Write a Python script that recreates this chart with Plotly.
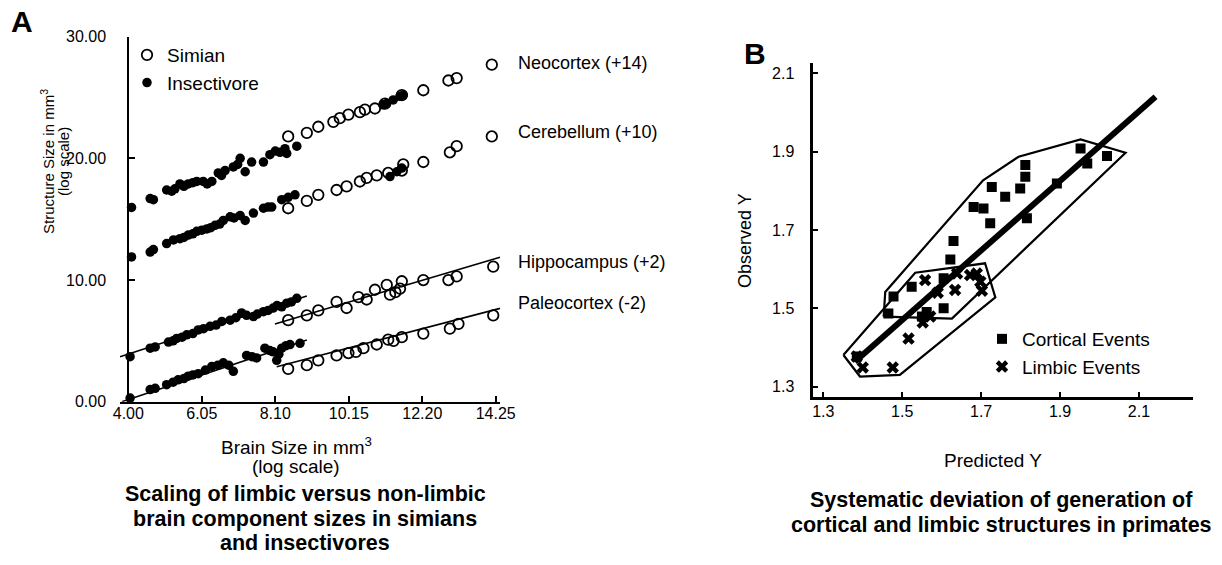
import plotly.graph_objects as go

W, H = 1222, 565

# ---------------- Panel A data (x = brain size, y = structure size, log scale, offsets applied) -------------
neo_ins_x = [4.09, 4.61, 4.70, 5.07, 5.21, 5.30, 5.44, 5.55, 5.67, 5.80, 5.91, 6.09, 6.20, 6.33, 6.51, 6.60, 6.70,
             6.93, 7.05, 7.12, 7.26, 7.44, 7.77, 7.95, 8.10, 8.23, 8.37, 8.42, 8.70, 11.10, 11.21, 11.39, 11.58, 11.67]
neo_ins_y = [15.97, 16.7, 16.6, 17.4, 17.3, 17.5, 17.9, 17.7, 17.9, 18.0, 18.1, 18.1, 17.9, 18.1, 18.8, 18.6, 19.0,
             19.3, 19.5, 20.0, 18.9, 19.7, 19.7, 20.3, 20.6, 20.5, 20.8, 20.4, 21.0, 24.4, 24.5, 24.8, 25.1, 25.2]
neo_sim_x = [8.46, 8.98, 9.30, 9.72, 9.90, 10.14, 10.46, 10.60, 10.88, 11.16, 11.63, 12.23, 12.93, 13.16, 14.14]
neo_sim_y = [21.8, 22.1, 22.6, 23.0, 23.3, 23.6, 23.8, 24.0, 24.1, 24.5, 25.2, 25.6, 26.4, 26.6, 27.7]

cer_ins_x = [4.09, 4.61, 4.70, 5.07, 5.26, 5.44, 5.55, 5.67, 5.80, 5.91, 6.05, 6.19, 6.30, 6.42, 6.55, 6.65, 6.84,
             6.95, 7.12, 7.26, 7.49, 7.77, 7.90, 8.00, 8.28, 8.46, 8.65, 11.30, 11.49, 11.63]
cer_ins_y = [11.9, 12.3, 12.5, 13.0, 13.3, 13.4, 13.5, 13.7, 13.8, 14.0, 14.1, 14.2, 14.3, 14.5, 14.6, 14.9, 15.2,
             15.1, 15.3, 14.9, 15.5, 15.9, 16.0, 16.0, 16.6, 16.8, 17.0, 18.5, 18.9, 19.2]
cer_sim_x = [8.46, 8.98, 9.30, 9.81, 10.09, 10.46, 10.65, 10.93, 11.25, 11.63, 11.67, 12.23, 12.97, 13.16, 14.14]
cer_sim_y = [15.9, 16.5, 17.0, 17.4, 17.7, 18.1, 18.4, 18.6, 18.8, 19.0, 19.5, 19.7, 20.5, 21.0, 21.8]

hip_ins_x = [4.05, 4.61, 4.75, 5.12, 5.25, 5.35, 5.50, 5.63, 5.80, 5.95, 6.10, 6.28, 6.45, 6.61, 6.84, 7.00, 7.16,
             7.30, 7.49, 7.60, 7.77, 7.90, 8.04, 8.15, 8.28, 8.42, 8.55, 8.70]
hip_ins_y = [3.7, 4.4, 4.5, 4.9, 5.0, 5.2, 5.3, 5.5, 5.6, 5.9, 6.0, 6.2, 6.3, 6.6, 6.7, 6.9, 7.3,
             7.1, 7.0, 7.2, 7.4, 7.5, 7.7, 7.9, 7.8, 8.1, 8.2, 8.5]
hip_sim_x = [8.46, 8.98, 9.30, 9.81, 10.09, 10.42, 10.65, 10.88, 11.21, 11.30, 11.45, 11.58, 11.63, 12.23, 12.93,
             13.16, 14.18]
hip_sim_y = [6.7, 7.1, 7.5, 8.2, 7.7, 8.6, 8.4, 9.2, 9.6, 8.8, 9.0, 9.3, 9.9, 10.0, 10.0, 10.3, 11.1]

pal_ins_x = [4.05, 4.61, 4.75, 5.07, 5.25, 5.39, 5.55, 5.67, 5.80, 5.95, 6.15, 6.33, 6.50, 6.65, 6.80, 6.93, 7.30,
             7.45, 7.58, 7.81, 7.95, 8.04, 8.14, 8.20, 8.28, 8.40, 8.51, 8.79]
pal_ins_y = [0.3, 1.0, 1.1, 1.4, 1.6, 1.8, 1.9, 2.1, 2.2, 2.3, 2.6, 2.9, 3.0, 3.2, 3.0, 2.5, 3.8,
             3.7, 3.6, 4.4, 4.2, 4.1, 3.4, 3.9, 4.4, 4.6, 4.7, 4.8]
pal_sim_x = [8.46, 8.98, 9.30, 9.81, 10.14, 10.35, 10.56, 10.93, 11.25, 11.40, 11.63, 12.23, 12.97, 13.21, 14.18]
pal_sim_y = [2.7, 3.0, 3.4, 3.8, 4.0, 4.1, 4.4, 4.7, 5.1, 5.0, 5.3, 5.6, 6.0, 6.4, 7.1]

# regression fits (end points)
hip_ins_fit_x, hip_ins_fit_y = [3.77, 8.98], [3.70, 8.69]
hip_sim_fit_x, hip_sim_fit_y = [8.09, 14.37], [6.38, 11.87]
pal_ins_fit_x, pal_ins_fit_y = [3.82, 8.98], [0.00, 5.07]
pal_sim_fit_x, pal_sim_fit_y = [8.14, 14.37], [2.88, 7.67]

a_xticks = [4.00, 6.05, 8.10, 10.15, 12.20, 14.25]
a_yticks = [0, 10, 20, 30]
structure_labels = ["Neocortex (+14)", "Cerebellum (+10)", "Hippocampus (+2)", "Paleocortex (-2)"]
structure_label_y = [27.8, 22.2, 11.5, 8.1]

# ---------------- Panel B data -------------
cort_x = [1.952, 1.969, 2.019, 1.892, 1.812, 1.812, 1.799, 1.727, 1.761, 1.681, 1.706, 1.723, 1.816, 1.630,
          1.622, 1.478, 1.465, 1.524, 1.605, 1.605, 1.562, 1.550, 1.385]
cort_y = [1.908, 1.870, 1.889, 1.819, 1.866, 1.836, 1.806, 1.810, 1.785, 1.759, 1.755, 1.717, 1.730, 1.672,
          1.625, 1.530, 1.487, 1.555, 1.577, 1.500, 1.491, 1.479, 1.377]
limb_x = [1.400, 1.476, 1.516, 1.552, 1.571, 1.558, 1.590, 1.634, 1.639, 1.672, 1.689, 1.702, 1.698, 1.385]
limb_y = [1.349, 1.349, 1.423, 1.464, 1.479, 1.572, 1.540, 1.547, 1.589, 1.585, 1.589, 1.545, 1.568, 1.377]
fit_b_x, fit_b_y = [1.380, 2.142], [1.364, 2.040]
cort_hull_x = [1.453, 1.457, 1.705, 1.795, 1.952, 2.066, 1.626, 1.453]
cort_hull_y = [1.479, 1.542, 1.827, 1.887, 1.931, 1.897, 1.474, 1.479]
limb_hull_x = [1.351, 1.393, 1.494, 1.736, 1.710, 1.533, 1.351]
limb_hull_y = [1.381, 1.326, 1.330, 1.528, 1.615, 1.591, 1.381]
b_ticks = [1.3, 1.5, 1.7, 1.9, 2.1]

caption_a = ["Scaling of limbic versus non-limbic", "brain component sizes in simians", "and insectivores"]
caption_b = ["Systematic deviation of generation of", "cortical and limbic structures in primates"]

FONT = "Liberation Sans"
BLACK = "#000000"


def px(x):
    return x / W


def py(y):
    return 1 - y / H


fig = go.Figure()

# Panel A scatter
groups = [
    (neo_ins_x, neo_ins_y, neo_sim_x, neo_sim_y),
    (cer_ins_x, cer_ins_y, cer_sim_x, cer_sim_y),
    (hip_ins_x, hip_ins_y, hip_sim_x, hip_sim_y),
    (pal_ins_x, pal_ins_y, pal_sim_x, pal_sim_y),
]
for i, (ix, iy, sx, sy) in enumerate(groups):
    fig.add_trace(go.Scatter(x=sx, y=sy, mode="markers", name="Simian", legendgroup="sim",
                             showlegend=(i == 0), legend="legend", cliponaxis=False,
                             marker=dict(symbol="circle-open", size=10.5, color=BLACK, line=dict(width=1.8, color=BLACK)),
                             xaxis="x", yaxis="y"))
for i, (ix, iy, sx, sy) in enumerate(groups):
    fig.add_trace(go.Scatter(x=ix, y=iy, mode="markers", name="Insectivore", legendgroup="ins",
                             showlegend=(i == 0), legend="legend", cliponaxis=False,
                             marker=dict(symbol="circle", size=9.5, color=BLACK),
                             xaxis="x", yaxis="y"))
for fx, fy in [(hip_ins_fit_x, hip_ins_fit_y), (hip_sim_fit_x, hip_sim_fit_y),
               (pal_ins_fit_x, pal_ins_fit_y), (pal_sim_fit_x, pal_sim_fit_y)]:
    fig.add_trace(go.Scatter(x=fx, y=fy, mode="lines", showlegend=False, hoverinfo="skip",
                             line=dict(color=BLACK, width=1.6), xaxis="x", yaxis="y"))

# Panel B
fig.add_trace(go.Scatter(x=cort_hull_x, y=cort_hull_y, mode="lines", showlegend=False, hoverinfo="skip",
                         line=dict(color=BLACK, width=2.2), xaxis="x2", yaxis="y2"))
fig.add_trace(go.Scatter(x=limb_hull_x, y=limb_hull_y, mode="lines", showlegend=False, hoverinfo="skip",
                         line=dict(color=BLACK, width=2.2), xaxis="x2", yaxis="y2"))
fig.add_trace(go.Scatter(x=fit_b_x, y=fit_b_y, mode="lines", showlegend=False, hoverinfo="skip",
                         line=dict(color=BLACK, width=6), xaxis="x2", yaxis="y2"))
fig.add_trace(go.Scatter(x=cort_x, y=cort_y, mode="markers", name="Cortical Events", legend="legend2",
                         marker=dict(symbol="square", size=10, color=BLACK), xaxis="x2", yaxis="y2"))
fig.add_trace(go.Scatter(x=limb_x, y=limb_y, mode="markers", name="Limbic Events", legend="legend2",
                         marker=dict(symbol="x", size=11, color=BLACK), xaxis="x2", yaxis="y2"))

# geometry (pixel positions)
a_x0, a_x1 = px(119.7), px(500.4)
a_y0, a_y1 = py(401.7), py(36.7)
b_x0, b_x1 = px(813.3), px(1193.3)
b_y0, b_y1 = py(396.7), py(63.3)

tickfont = dict(family=FONT, size=16, color=BLACK)
axis_common = dict(showgrid=False, zeroline=False, showline=True, linecolor=BLACK, ticks="inside",
                   tickcolor=BLACK, tickfont=tickfont, automargin=False)

fig.update_layout(
    width=W, height=H, margin=dict(l=0, r=0, t=0, b=0, autoexpand=False),
    paper_bgcolor="white", plot_bgcolor="white",
    font=dict(family=FONT, color=BLACK, size=16),
    xaxis=dict(domain=[a_x0, a_x1], range=[3.76, 14.38], anchor="y", linewidth=2, ticklen=6, tickwidth=2,
               tickvals=a_xticks, ticktext=[f"{v:.2f}" for v in a_xticks], ticklabelstandoff=-4,
               **axis_common),
    yaxis=dict(domain=[a_y0, a_y1], range=[0, 30], anchor="free", position=px(128.3), linewidth=2, ticklen=6,
               tickwidth=2, tickvals=a_yticks, ticktext=[f"{v:.2f}" for v in a_yticks], ticklabelstandoff=18,
               **axis_common),
    xaxis2=dict(domain=[b_x0, b_x1], range=[1.2747, 2.2377], anchor="y2", linewidth=2.5, ticklen=5, tickwidth=2,
                tickvals=b_ticks, ticktext=[f"{v:.1f}" for v in b_ticks], ticklabelstandoff=-2,
                **axis_common),
    yaxis2=dict(domain=[b_y0, b_y1], range=[1.2745, 2.1255], anchor="x2", linewidth=2.5, ticklen=5, tickwidth=2,
                tickvals=b_ticks, ticktext=[f"{v:.1f}" for v in b_ticks], ticklabelstandoff=13,
                **axis_common),
    legend=dict(x=px(127), y=py(36), xanchor="left", yanchor="top", bgcolor="rgba(0,0,0,0)",
                font=dict(family=FONT, size=19), itemwidth=30, tracegroupgap=0),
    legend2=dict(x=px(982), y=py(320), xanchor="left", yanchor="top", bgcolor="rgba(0,0,0,0)",
                 font=dict(family=FONT, size=19), itemwidth=30),
)


def note(x, y, text, size, xanchor="center", yanchor="middle", angle=0, yref="paper", bold=False):
    return dict(x=px(x), y=(py(y) if yref == "paper" else y), xref="paper", yref=yref,
                text=(f"<b>{text}</b>" if bold else text), showarrow=False, xanchor=xanchor, yanchor=yanchor,
                textangle=angle, font=dict(family=FONT, size=size, color=BLACK))


annotations = [
    note(22, 22, "A", 30, bold=True),
    note(755, 53, "B", 30, bold=True),
    # axis titles
    note(296, 446, "Brain Size in mm<sup>3</sup>", 19),
    note(296, 466, "(log scale)", 19),
    note(47, 162, "Structure Size in mm<sup>3</sup>", 15, angle=-90),
    note(63, 162, "(log scale)", 15, angle=-90),
    note(993, 460, "Predicted Y", 19),
    note(745, 241, "Observed Y", 18, angle=-90),
]
for line, yy in zip(caption_a, [494, 519, 543]):
    annotations.append(note(305, yy, line, 21.5, bold=True))
for line, yy in zip(caption_b, [500, 525]):
    annotations.append(note(1001, yy, line, 21.5, bold=True))
for lab, yv in zip(structure_labels, structure_label_y):
    annotations.append(note(516, yv, lab, 18, xanchor="left", yref="y"))
fig.update_layout(annotations=annotations)

fig.write_html("out.html", config={"displayModeBar": False},
               post_script="document.body.style.margin='0px';document.body.style.overflow='hidden';")
